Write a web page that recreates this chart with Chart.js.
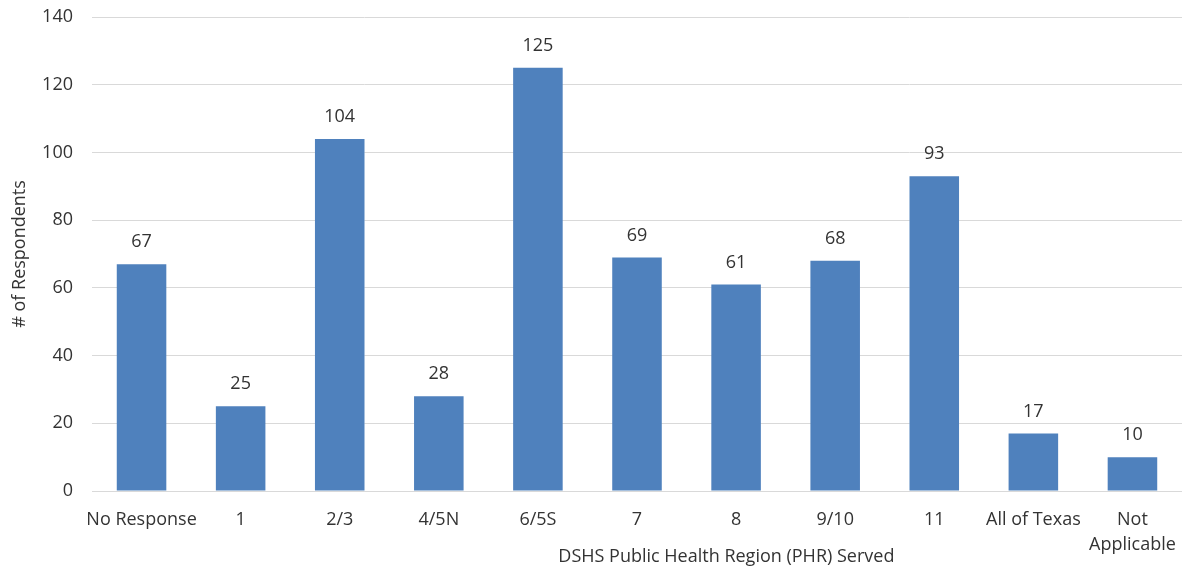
<!DOCTYPE html>
<html><head><meta charset="utf-8">
<script src="https://cdn.jsdelivr.net/npm/chart.js@4/dist/chart.umd.min.js"></script>
<style>html,body{margin:0;padding:0;background:#fff;}#wrap{width:1182px;height:572px;}</style>
</head><body><div id="wrap"><canvas id="c" width="1182" height="572"></canvas></div>
<script>
const categories = ["No Response","1","2/3","4/5N","6/5S","7","8","9/10","11","All of Texas",["Not","Applicable"]];
const respondents = [67,25,104,28,125,69,61,68,93,17,10];
const yTitle = "# of Respondents";
const xTitle = "DSHS Public Health Region (PHR) Served";
const FONT = "'Open Sans', sans-serif";
const TXT = "#333333";

const labelPlugin = {
  id: 'labels',
  afterDatasetsDraw(chart) {
    const ctx = chart.ctx;
    const meta = chart.getDatasetMeta(0);
    ctx.save();
    ctx.font = "18px " + FONT;
    ctx.fillStyle = TXT;
    ctx.textAlign = 'center';
    ctx.textBaseline = 'middle';
    meta.data.forEach((bar, i) => {
      ctx.fillText(String(respondents[i]), bar.x, bar.y - 22);
    });
    const a = chart.chartArea;
    ctx.fillText(xTitle, a.left + (a.right - a.left) * 0.582, 557);
    ctx.restore();
  }
};

new Chart(document.getElementById('c'), {
  type: 'bar',
  data: { labels: categories, datasets: [{ data: respondents, backgroundColor: '#4f81bd', borderWidth: 0, categoryPercentage: 1, barPercentage: 0.5 }] },
  options: {
    responsive: false, animation: false,
    layout: { padding: { top: 17, right: -4, left: 0, bottom: 0 } },
    plugins: { legend: { display: false }, tooltip: { enabled: false } },
    scales: {
      x: {
        grid: { display: false, drawTicks: false },
        border: { color: '#d9d9d9', width: 1 },
        ticks: { color: TXT, font: { family: FONT, size: 18, lineHeight: 1.35 }, padding: 17, maxRotation: 0, autoSkip: false },
        afterFit(s) { s.height = 81; s.paddingLeft = 0; s.paddingRight = 0; }
      },
      y: {
        min: 0, max: 140,
        ticks: { stepSize: 20, color: TXT, font: { family: FONT, size: 18 }, padding: 19 },
        grid: { color: '#d9d9d9', lineWidth: 1, drawTicks: false },
        border: { display: false },
        title: { display: true, text: yTitle, color: TXT, font: { family: FONT, size: 18 }, padding: { top: 9, bottom: 0 } },
        afterFit(s) { s.width = 92; s.paddingTop = 0; s.paddingBottom = 0; }
      }
    }
  },
  plugins: [labelPlugin]
});
</script></body></html>
